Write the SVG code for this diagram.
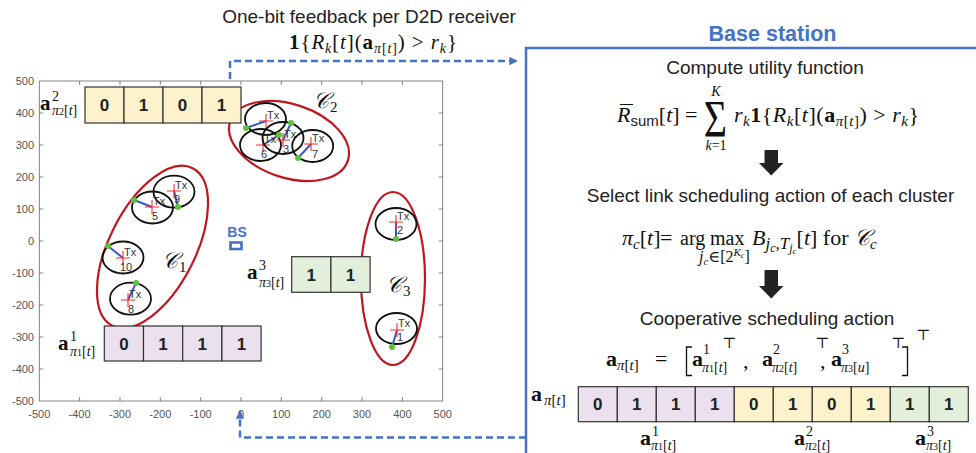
<svg xmlns="http://www.w3.org/2000/svg" width="976" height="453" viewBox="0 0 976 453">
<style>
.ax{fill:none;stroke:#666;stroke-width:0.8}
.tk{font-family:"Liberation Sans",Arial,sans-serif;font-size:11px;fill:#555}
.cl{fill:none;stroke:#C0161F;stroke-width:2.2}
.dev{fill:none;stroke:#111;stroke-width:1.8}
.lnk{stroke:#3A55C8;stroke-width:2}
.rx{fill:#5CC43A}
.cr{stroke:#FF2A2A;stroke-width:1.1;fill:none}
.tl{font-family:"Liberation Sans",Arial,sans-serif;font-size:11px;fill:#333}
.cell{stroke:#333;stroke-width:1.2}
.p{fill:#EBE0EE}.y{fill:#FDF2CB}.g{fill:#E2EFDA}
.bit{font-family:"Liberation Sans",Arial,sans-serif;font-size:17px;font-weight:bold;fill:#222;text-anchor:middle}
.m{font-family:"Liberation Serif","DejaVu Serif",serif;fill:#111}
.mi{font-style:italic}
.mb{font-weight:bold}
.sans{font-family:"Liberation Sans",Arial,sans-serif;fill:#222}
.dash{fill:none;stroke:#4472C4;stroke-width:2.5;stroke-dasharray:7 4}
.blue{fill:#4472C4}
.brk{fill:none;stroke:#111;stroke-width:1.3}
</style>
<defs>
<marker id="ah" viewBox="0 0 10 10" refX="9" refY="5" markerWidth="3.4" markerHeight="3.4" orient="auto" markerUnits="strokeWidth">
<path d="M0,0L10,5L0,10z" fill="#4472C4"/>
</marker>
</defs>
<rect width="976" height="453" fill="#fff"/>

<!-- axes -->
<g id="axes">
<rect class="ax" x="39.3" y="81" width="403.4" height="320"/>
<path class="ax" d="M79.6,401v-4M120,401v-4M160.3,401v-4M200.7,401v-4M241,401v-4M281.3,401v-4M321.7,401v-4M362,401v-4M402.4,401v-4
M79.6,81v4M120,81v4M160.3,81v4M200.7,81v4M241,81v4M281.3,81v4M321.7,81v4M362,81v4M402.4,81v4
M39.3,113h4M39.3,145h4M39.3,177h4M39.3,209h4M39.3,241h4M39.3,273h4M39.3,305h4M39.3,337h4M39.3,369h4
M442.7,113h-4M442.7,145h-4M442.7,177h-4M442.7,209h-4M442.7,241h-4M442.7,273h-4M442.7,305h-4M442.7,337h-4M442.7,369h-4"/>
<g class="tk" text-anchor="end">
<text x="34" y="85">500</text><text x="34" y="117">400</text><text x="34" y="149">300</text><text x="34" y="181">200</text><text x="34" y="213">100</text><text x="34" y="245">0</text><text x="34" y="277">-100</text><text x="34" y="309">-200</text><text x="34" y="341">-300</text><text x="34" y="373">-400</text><text x="34" y="405">-500</text>
</g>
<g class="tk" text-anchor="middle">
<text x="39.3" y="418">-500</text><text x="79.6" y="418">-400</text><text x="120" y="418">-300</text><text x="160.3" y="418">-200</text><text x="200.7" y="418">-100</text><text x="241" y="418">0</text><text x="281.3" y="418">100</text><text x="321.7" y="418">200</text><text x="362" y="418">300</text><text x="402.4" y="418">400</text><text x="442.7" y="418">500</text>
</g>
</g>

<!-- clusters -->
<g id="cluster1">
<ellipse class="cl" cx="0" cy="0" rx="43" ry="88.5" transform="translate(152.5,247) rotate(27)"/>
<text class="m mi" x="162" y="268" font-size="22">𝒞</text><text class="m" x="179" y="272" font-size="15">1</text>
</g>
<g id="cluster2">
<ellipse class="cl" cx="0" cy="0" rx="62" ry="36.8" transform="translate(289,141) rotate(18.4)"/>
<text class="m mi" x="313" y="108" font-size="22">𝒞</text><text class="m" x="330" y="112" font-size="15">2</text>
</g>
<g id="cluster3">
<ellipse class="cl" cx="393" cy="278.5" rx="32" ry="86.5"/>
<text class="m mi" x="386" y="292" font-size="22">𝒞</text><text class="m" x="403" y="296" font-size="15">3</text>
</g>

<!-- devices -->
<g id="n4"><ellipse class="dev" cx="265.5" cy="119" rx="20.5" ry="16"/><line class="lnk" x1="266" y1="121" x2="246" y2="128"/><circle class="rx" cx="246" cy="128" r="3"/><path class="cr" d="M259,121h14M266,114v14"/><text class="tl" x="267" y="119">Tx</text></g>
<g id="n6"><ellipse class="dev" cx="260.5" cy="145" rx="20.5" ry="16"/><line class="lnk" x1="263" y1="145" x2="279" y2="135"/><circle class="rx" cx="279" cy="135" r="3"/><path class="cr" d="M256,145h14M263,138v14"/><text class="tl" x="264" y="143">Tx</text><text class="tl" x="261" y="158">6</text></g>
<g id="n3"><ellipse class="dev" cx="283" cy="138" rx="20.5" ry="16"/><line class="lnk" x1="283" y1="140" x2="291" y2="123"/><circle class="rx" cx="291" cy="123" r="3"/><path class="cr" d="M276,140h14M283,133v14"/><text class="tl" x="284" y="138">Tx</text><text class="tl" x="283" y="153">3</text></g>
<g id="n7"><ellipse class="dev" cx="312.7" cy="146" rx="20.5" ry="16"/><line class="lnk" x1="311" y1="144" x2="298" y2="158"/><circle class="rx" cx="298" cy="158" r="3"/><path class="cr" d="M304,144h14M311,137v14"/><text class="tl" x="312" y="142">Tx</text><text class="tl" x="312" y="158">7</text></g>
<g id="n9"><ellipse class="dev" cx="174" cy="191.7" rx="20.5" ry="16"/><line class="lnk" x1="174" y1="191" x2="178" y2="207"/><circle class="rx" cx="178" cy="207" r="3"/><path class="cr" d="M167,191h14M174,184v14"/><text class="tl" x="175" y="189">Tx</text><text class="tl" x="174" y="203">9</text></g>
<g id="n5"><ellipse class="dev" cx="152.5" cy="207.5" rx="20.5" ry="16"/><line class="lnk" x1="152" y1="207" x2="134" y2="200"/><circle class="rx" cx="134" cy="200" r="3"/><path class="cr" d="M145,207h14M152,200v14"/><text class="tl" x="153" y="205">Tx</text><text class="tl" x="152" y="220">5</text></g>
<g id="n10"><ellipse class="dev" cx="123" cy="257.5" rx="20.5" ry="16"/><line class="lnk" x1="123" y1="258" x2="108" y2="246"/><circle class="rx" cx="108" cy="246" r="3"/><path class="cr" d="M116,258h14M123,251v14"/><text class="tl" x="124" y="256">Tx</text><text class="tl" x="120" y="271">10</text></g>
<g id="n8"><ellipse class="dev" cx="130.5" cy="298.7" rx="20.5" ry="16"/><line class="lnk" x1="128" y1="300" x2="136" y2="283"/><circle class="rx" cx="136" cy="283" r="3"/><path class="cr" d="M121,300h14M128,293v14"/><text class="tl" x="129" y="298">Tx</text><text class="tl" x="128" y="313">8</text></g>
<g id="n2"><ellipse class="dev" cx="396" cy="224" rx="20.5" ry="16"/><line class="lnk" x1="396" y1="222" x2="396" y2="239"/><circle class="rx" cx="396" cy="239" r="3"/><path class="cr" d="M389,222h14M396,215v14"/><text class="tl" x="397" y="220">Tx</text><text class="tl" x="397" y="234">2</text></g>
<g id="n1"><ellipse class="dev" cx="396.5" cy="328.5" rx="20.5" ry="15.5"/><line class="lnk" x1="397" y1="330" x2="392" y2="347"/><circle class="rx" cx="392" cy="347" r="3"/><path class="cr" d="M390,330h14M397,323v14"/><text class="tl" x="398" y="327">Tx</text><text class="tl" x="397" y="341">1</text></g>

<!-- BS -->
<g id="bs">
<text x="237" y="237" text-anchor="middle" font-family="Liberation Sans,Arial,sans-serif" font-weight="bold" font-size="14" class="blue">BS</text>
<rect x="230.5" y="242.5" width="11" height="6.5" fill="#fff" stroke="#4472C4" stroke-width="2.6"/>
</g>

<!-- cluster action vectors -->
<g id="vec2">
<rect class="cell y" x="85" y="87" width="39" height="36"/><rect class="cell y" x="124" y="87" width="39" height="36"/><rect class="cell y" x="163" y="87" width="39" height="36"/><rect class="cell y" x="202" y="87" width="39" height="36"/>
<text class="bit" x="104.5" y="111">0</text><text class="bit" x="143.5" y="111">1</text><text class="bit" x="182.5" y="111">0</text><text class="bit" x="221.5" y="111">1</text>
<text class="m mb" x="40" y="110" font-size="21">a</text><text class="m" x="52" y="101" font-size="14">2</text>
<text class="m" x="52" y="115" font-size="14"><tspan class="mi">π</tspan><tspan font-size="10">2</tspan>[<tspan class="mi">t</tspan>]</text>
</g>
<g id="vec1">
<rect class="cell p" x="104.3" y="326" width="39.2" height="35"/><rect class="cell p" x="143.5" y="326" width="39.2" height="35"/><rect class="cell p" x="182.7" y="326" width="39.2" height="35"/><rect class="cell p" x="221.9" y="326" width="39.2" height="35"/>
<text class="bit" x="123.9" y="350">0</text><text class="bit" x="163.1" y="350">1</text><text class="bit" x="202.3" y="350">1</text><text class="bit" x="241.5" y="350">1</text>
<text class="m mb" x="58" y="350" font-size="21">a</text><text class="m" x="70" y="341" font-size="14">1</text>
<text class="m" x="70" y="356" font-size="14"><tspan class="mi">π</tspan><tspan font-size="10">1</tspan>[<tspan class="mi">t</tspan>]</text>
</g>
<g id="vec3">
<rect class="cell g" x="291.7" y="256.7" width="39.2" height="35.6"/><rect class="cell g" x="330.9" y="256.7" width="39.2" height="35.6"/>
<text class="bit" x="311.3" y="281">1</text><text class="bit" x="350.5" y="281">1</text>
<text class="m mb" x="247" y="279" font-size="21">a</text><text class="m" x="259" y="270" font-size="14">3</text>
<text class="m" x="259" y="287" font-size="14"><tspan class="mi">π</tspan><tspan font-size="10">3</tspan>[<tspan class="mi">t</tspan>]</text>
</g>

<!-- feedback text -->
<g id="feedback">
<text class="sans" x="369" y="23" font-size="19" text-anchor="middle">One-bit feedback per D2D receiver</text>
<text class="m" x="289" y="49" font-size="21" textLength="168" lengthAdjust="spacing"><tspan class="mb">1</tspan>{<tspan class="mi">R</tspan><tspan class="mi" font-size="14" dy="4">k</tspan><tspan dy="-4">[</tspan><tspan class="mi">t</tspan>](<tspan class="mb">a</tspan><tspan font-size="14" dy="4"><tspan class="mi">π</tspan>[<tspan class="mi">t</tspan>]</tspan><tspan dy="-4">) &gt; </tspan><tspan class="mi">r</tspan><tspan class="mi" font-size="14" dy="4">k</tspan><tspan dy="-4">}</tspan></text>
</g>

<!-- connectors -->
<g id="connectors">
<path class="dash" d="M230,79V61H517" marker-end="url(#ah)"/>
<path class="dash" d="M526,437.5H240V411" marker-end="url(#ah)"/>
<path d="M764.5,150h13.5v13h5.5l-12.25,12.5l-12.25,-12.5h5.5z" fill="#222"/>
<path d="M764.5,270h13.5v16h5.5l-12.25,12.5l-12.25,-12.5h5.5z" fill="#222"/>
</g>

<!-- base station -->
<g id="basestation">
<rect x="526" y="48" width="470" height="420" fill="none" stroke="#4472C4" stroke-width="2.5"/>
<text x="772.5" y="40.5" text-anchor="middle" font-family="Liberation Sans,Arial,sans-serif" font-weight="bold" font-size="21.5" class="blue">Base station</text>
<text class="sans" x="765" y="74" font-size="19" text-anchor="middle">Compute utility function</text>
<text class="sans" x="770.5" y="202" font-size="19" text-anchor="middle">Select link scheduling action of each cluster</text>
<text class="sans" x="767" y="325" font-size="19" text-anchor="middle">Cooperative scheduling action</text>

<!-- formula 1 -->
<line x1="620" y1="104.5" x2="633" y2="104.5" stroke="#111" stroke-width="1"/>
<text class="m" x="617" y="122" font-size="22"><tspan class="mi">R</tspan><tspan class="sans" font-size="15" dy="4">sum</tspan><tspan dy="-4">[</tspan><tspan class="mi">t</tspan>] =</text>
<text class="m" font-size="40" text-anchor="middle" transform="translate(715.5,136.5) scale(1,1.3)">Σ</text>
<text class="m mi" x="716" y="96" font-size="14" text-anchor="middle">K</text>
<text class="m" x="716" y="150" font-size="14" text-anchor="middle"><tspan class="mi">k</tspan>=1</text>
<text class="m" x="734" y="122" font-size="22" textLength="185" lengthAdjust="spacing"><tspan class="mi">r</tspan><tspan class="mi" font-size="15" dy="4">k</tspan><tspan class="mb" dy="-4">1</tspan>{<tspan class="mi">R</tspan><tspan class="mi" font-size="15" dy="4">k</tspan><tspan dy="-4">[</tspan><tspan class="mi">t</tspan>](<tspan class="mb">a</tspan><tspan font-size="15" dy="4"><tspan class="mi">π</tspan>[<tspan class="mi">t</tspan>]</tspan><tspan dy="-4">) &gt; </tspan><tspan class="mi">r</tspan><tspan class="mi" font-size="15" dy="4">k</tspan><tspan dy="-4">}</tspan></text>

<!-- formula 2 -->
<text class="m" x="622" y="245" font-size="22"><tspan class="mi">π</tspan><tspan class="mi" font-size="15" dy="4">c</tspan><tspan dy="-4">[</tspan><tspan class="mi">t</tspan>]</text>
<text class="m" x="660" y="245" font-size="22">=</text>
<text class="m" x="680" y="245" font-size="20">arg</text>
<text class="m" x="710" y="245" font-size="20">max</text>
<text class="m" x="699" y="262" font-size="16"><tspan class="mi">j</tspan><tspan class="mi" font-size="11" dy="3">c</tspan><tspan dy="-3">∈[2</tspan><tspan class="mi" font-size="11" dy="-6">K</tspan><tspan class="mi" font-size="8" dy="2">c</tspan><tspan dy="4">]</tspan></text>
<text class="m" x="752" y="245" font-size="22"><tspan class="mi">B</tspan><tspan class="mi" font-size="17" dy="4">j</tspan><tspan class="mi" font-size="12" dy="3">c</tspan><tspan font-size="17" dy="-3">,</tspan><tspan class="mi" font-size="17">T</tspan><tspan class="mi" font-size="12" dy="3">j</tspan><tspan class="mi" font-size="9" dy="2">c</tspan><tspan dy="-9">[</tspan><tspan class="mi">t</tspan>] for <tspan class="mi">𝒞</tspan><tspan class="mi" font-size="15" dy="4">c</tspan></text>

<!-- formula 3 -->
<text class="m" x="606" y="366" font-size="22"><tspan class="mb">a</tspan><tspan font-size="15" dy="4"><tspan class="mi">π</tspan>[<tspan class="mi">t</tspan>]</tspan></text>
<text class="m" x="655" y="366" font-size="22">=</text>
<path class="brk" d="M692,347H686.5V375.5H692M902,347H907.5V375.5H902"/>
<text class="m mb" x="692" y="366" font-size="22">a</text><text class="m" x="703" y="354" font-size="14">1</text>
<text class="m" x="702" y="372" font-size="14"><tspan class="mi">π</tspan><tspan font-size="10">1</tspan>[<tspan class="mi">t</tspan>]</text>
<text class="m" x="722" y="348" font-size="15">⊤</text><text class="m" x="743" y="368" font-size="22">,</text>
<text class="m mb" x="762" y="366" font-size="22">a</text><text class="m" x="773" y="354" font-size="14">2</text>
<text class="m" x="772" y="372" font-size="14"><tspan class="mi">π</tspan><tspan font-size="10">2</tspan>[<tspan class="mi">t</tspan>]</text>
<text class="m" x="815" y="348" font-size="15">⊤</text><text class="m" x="820" y="368" font-size="22">,</text>
<text class="m mb" x="831" y="366" font-size="22">a</text><text class="m" x="842" y="354" font-size="14">3</text>
<text class="m" x="841" y="372" font-size="14"><tspan class="mi">π</tspan><tspan font-size="10">3</tspan>[<tspan class="mi">u</tspan>]</text>
<text class="m" x="891" y="348" font-size="15">⊤</text>
<text class="m" x="916" y="340" font-size="15">⊤</text>
</g>

<!-- joint action vector -->
<g id="jointvec">
<text class="m mb" x="531" y="401" font-size="22">a</text>
<text class="m" x="544" y="405" font-size="15"><tspan class="mi">π</tspan>[<tspan class="mi">t</tspan>]</text>
<rect class="cell p" x="578.3" y="386.7" width="39" height="35"/><rect class="cell p" x="617.3" y="386.7" width="39" height="35"/><rect class="cell p" x="656.3" y="386.7" width="39" height="35"/><rect class="cell p" x="695.3" y="386.7" width="39" height="35"/>
<rect class="cell y" x="734.3" y="386.7" width="39" height="35"/><rect class="cell y" x="773.3" y="386.7" width="39" height="35"/><rect class="cell y" x="812.3" y="386.7" width="39" height="35"/><rect class="cell y" x="851.3" y="386.7" width="39" height="35"/>
<rect class="cell g" x="890.3" y="386.7" width="39" height="35"/><rect class="cell g" x="929.3" y="386.7" width="39" height="35"/>
<text class="bit" x="597.8" y="410">0</text><text class="bit" x="636.8" y="410">1</text><text class="bit" x="675.8" y="410">1</text><text class="bit" x="714.8" y="410">1</text>
<text class="bit" x="753.8" y="410">0</text><text class="bit" x="792.8" y="410">1</text><text class="bit" x="831.8" y="410">0</text><text class="bit" x="870.8" y="410">1</text>
<text class="bit" x="909.8" y="410">1</text><text class="bit" x="948.8" y="410">1</text>
<text class="m mb" x="640" y="445" font-size="22">a</text><text class="m" x="652" y="436" font-size="14">1</text>
<text class="m" x="651" y="450" font-size="14"><tspan class="mi">π</tspan><tspan font-size="10">1</tspan>[<tspan class="mi">t</tspan>]</text>
<text class="m mb" x="794" y="445" font-size="22">a</text><text class="m" x="806" y="436" font-size="14">2</text>
<text class="m" x="805" y="450" font-size="14"><tspan class="mi">π</tspan><tspan font-size="10">2</tspan>[<tspan class="mi">t</tspan>]</text>
<text class="m mb" x="915" y="445" font-size="22">a</text><text class="m" x="927" y="436" font-size="14">3</text>
<text class="m" x="926" y="450" font-size="14"><tspan class="mi">π</tspan><tspan font-size="10">3</tspan>[<tspan class="mi">t</tspan>]</text>
</g>
</svg>
